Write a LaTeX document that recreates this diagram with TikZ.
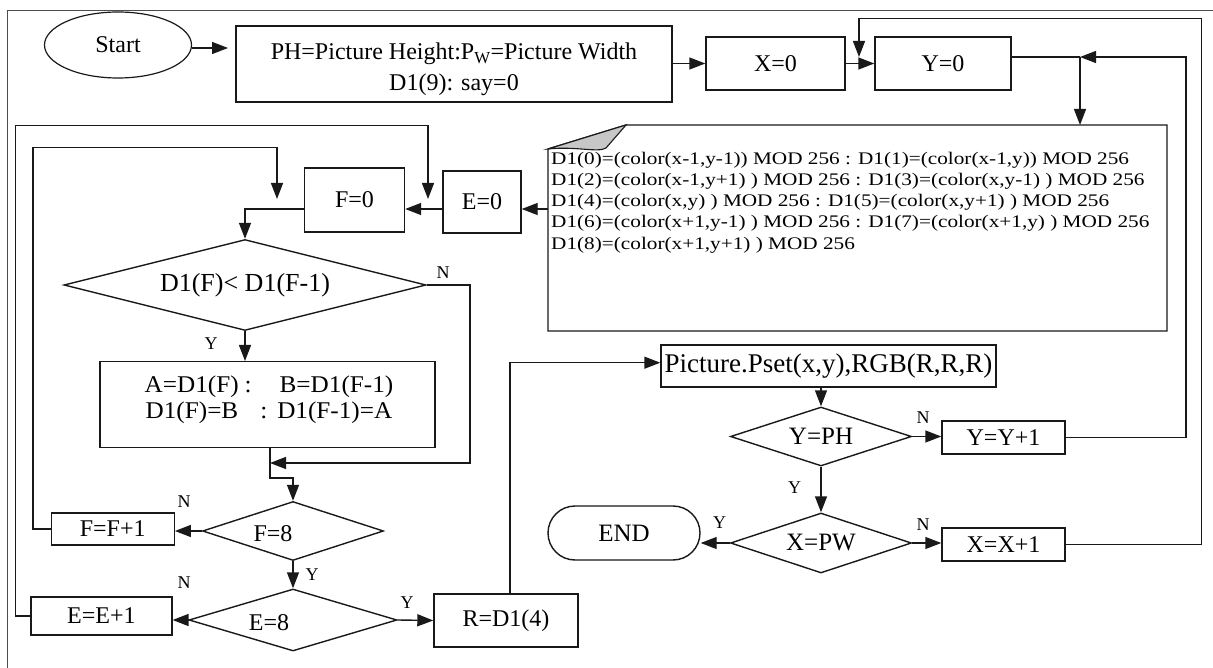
\documentclass[tikz,border=0pt]{standalone}
\usepackage{fontspec}
\setmainfont{Liberation Serif}
\newfontfamily\widefont[FakeStretch=1.2]{Liberation Serif}
\newfontfamily\midfont[FakeStretch=1.05]{Liberation Serif}
\usetikzlibrary{arrows.meta,shapes.geometric,calc}
\begin{document}
\begin{tikzpicture}[x=1pt,y=-1pt,
  ink/.style={draw=black!90},
  box/.style={ink, rectangle, line width=1.4pt, inner sep=0pt, font=\fontsize{24}{28}\selectfont},
  dia/.style={ink, diamond, aspect=3, line width=1.4pt, inner sep=0pt, font=\fontsize{25}{28}\selectfont},
  arr/.style={ink, line width=1.4pt, -{Triangle[length=16pt,width=12pt]}},
  link/.style={ink, line width=1.4pt},
  yn/.style={inner sep=0pt, font=\fontsize{18}{20}\selectfont},
  txt/.style={inner sep=0pt}
]
\useasboundingbox (0,0) rectangle (1213,668);

% page frame
\draw[black!70, line width=1pt] (7,668) -- (7,11) -- (1213,11);

% ---------- top row ----------
\node[ellipse, ink, line width=1.2pt, inner sep=0pt, minimum width=147pt, minimum height=66pt,
      font=\fontsize{24}{28}\selectfont] (start) at (118,45) {Start};
\node[box, minimum width=436pt, minimum height=76pt] (ph) at (454,64) {};
\node[txt, anchor=base, font=\fontsize{24}{31}\selectfont] (phtext) at (454,59.5)
  {\begin{tabular}[t]{@{}c@{}}PH=Picture Height:P\textsubscript{W}=Picture Width\\ D1(9): say=0\end{tabular}};
\node[box, minimum width=139pt, minimum height=53pt] (x0) at (775.5,63.5) {X=0};
\node[box, minimum width=136pt, minimum height=53pt] (y0) at (943,63.5) {Y=0};

\coordinate (sa) at (228,48);
\draw[arr] (start.east |- sa) -- (sa);
\draw[arr] (ph.east |- x0.west) -- (x0.west);
\draw[arr] (x0.east) -- (y0.west);

% ---------- neighbourhood box with folded corner ----------
\coordinate (d1a) at (548,125);
\draw[link] (626,125) -- (1167,125) -- (1167,331) -- (548,331) -- (548,149) -- cycle;
\filldraw[ink, fill=black!22, line width=1.1pt] (548,149) -- (626,125) -- (606,148)
  .. controls (598,153) and (576,146) .. cycle;
\node[txt, anchor=base west, font=\widefont\fontsize{17.7}{21.2}\selectfont] (d1text) at (551,164.3)
  {\begin{tabular}[t]{@{}l@{}}
   D1(0)=(color(x-1,y-1)) MOD 256 : D1(1)=(color(x-1,y)) MOD 256\\
   D1(2)=(color(x-1,y+1) ) MOD 256 : D1(3)=(color(x,y-1) ) MOD 256\\
   D1(4)=(color(x,y) ) MOD 256 : D1(5)=(color(x,y+1) ) MOD 256\\
   D1(6)=(color(x+1,y-1) ) MOD 256 : D1(7)=(color(x+1,y) ) MOD 256\\
   D1(8)=(color(x+1,y+1) ) MOD 256
   \end{tabular}};

\coordinate (jy) at (1080,57);
\draw[link] (y0.east |- jy) -- (jy);
\draw[arr] (jy) -- (jy |- d1a);

% ---------- sorting loop ----------
\node[box, minimum width=78pt, minimum height=62pt] (e0) at (482,202) {E=0};
\node[box, minimum width=100pt, minimum height=64pt] (f0) at (354.5,200) {F=0};
\node[dia, aspect=4, minimum width=362pt, minimum height=91pt, font=\fontsize{26}{28}\selectfont] (cmp) at (245,285) {D1(F)< D1(F-1)};
\node[box, minimum width=335pt, minimum height=86pt] (abox) at (267.5,404.7) {};
\node[txt, anchor=base, font=\midfont\fontsize{24}{26}\selectfont] (atext) at (269,392.3)
  {\begin{tabular}[t]{@{}c@{}}A=D1(F)\hspace{6pt}:\hspace{28pt}B=D1(F-1)\\ D1(F)=B\hspace{22pt}:\hspace{10pt}D1(F-1)=A\end{tabular}};

\coordinate (d1w) at (548,209);
\coordinate (fl) at (245,209);
\draw[arr] (d1w) -- (e0.east |- d1w);
\draw[arr] (e0.west |- d1w) -- (f0.east |- d1w);
\draw[arr] (f0.west |- fl) -- (fl) -- (cmp.north);
\draw[arr] (cmp.south) -- (abox.north -| cmp.south);
\node[yn] (ly1) at (211,344) {Y};
\node[yn] (ln1) at (443,273) {N};

\node[dia, minimum width=181pt, minimum height=59pt] (f8) at (293,531) {};
\node[txt, font=\fontsize{24}{28}\selectfont] (f8t) at (273,534) {F=8};
\node[box, minimum width=123pt, minimum height=32pt] (ff) at (112.7,529) {F=F+1};
\node[dia, aspect=3.4, minimum width=208pt, minimum height=62pt] (e8) at (293,620) {};
\node[txt, font=\fontsize{24}{28}\selectfont] (e8t) at (269,623) {E=8};
\node[box, minimum width=141pt, minimum height=38pt] (ee) at (101.4,616) {E=E+1};
\node[box, minimum width=144pt, minimum height=53pt] (r) at (506,620.5) {R=D1(4)};

\coordinate (ja) at (270,478);
\coordinate (nr) at (470,463);
\draw[arr] (abox.south -| ja) -- (ja) -- (ja -| f8.north) -- (f8.north);
\draw[arr] (cmp.east) -- (nr |- cmp.east) -- (nr) -- (nr -| ja);

\draw[arr] (f8.west) -- (ff.east |- f8.west);
\node[yn] (ln2) at (184,502) {N};
\draw[arr] (f8.south) -- (e8.north);
\node[yn] (ly2) at (312,575) {Y};
\draw[arr] (e8.west) -- (ee.east |- e8.west);
\node[yn] (ln3) at (184,583) {N};
\draw[arr] (e8.east) -- (r.west);
\node[yn] (ly3) at (407,603) {Y};

\coordinate (li) at (33,147.7);
\coordinate (ti) at (277,199);
\draw[arr] (ff.west) -- (li |- ff.west) -- (li) -- (li -| ti) -- (ti);
\coordinate (lo) at (15.5,125.7);
\coordinate (to) at (428,199);
\draw[arr] (ee.west) -- (lo |- ee.west) -- (lo) -- (lo -| to) -- (to);

% ---------- output and pixel loops ----------
\node[box, minimum width=335pt, minimum height=42pt, font=\fontsize{27}{30}\selectfont] (pset) at (828.5,366) {Picture.Pset(x,y),RGB(R,R,R)};
\node[dia, minimum width=181pt, minimum height=59pt] (yph) at (821,436.5) {Y=PH};
\node[box, minimum width=123pt, minimum height=33pt] (yy) at (1003.5,437.5) {Y=Y+1};
\node[dia, minimum width=181pt, minimum height=60pt] (xpw) at (821,543) {X=PW};
\node[box, minimum width=123pt, minimum height=33pt] (xx) at (1003.5,544.5) {X=X+1};
\node[ink, rectangle, rounded corners=27pt, line width=1.4pt, inner sep=0pt, minimum width=152pt,
      minimum height=54pt, font=\fontsize{25}{28}\selectfont] (endn) at (624,533) {END};

\coordinate (rv) at (510,362.7);
\draw[arr] (r.north -| rv) -- (rv) -- (rv -| pset.west);
\draw[arr] (pset.south -| yph.north) -- (yph.north);
\draw[arr] (yph.east) -- (yy.west |- yph.east);
\node[yn] (ln4) at (923,418) {N};
\draw[arr] (yph.south) -- (xpw.north);
\node[yn] (ly4) at (794.5,488) {Y};
\draw[arr] (xpw.east) -- (xx.west |- xpw.east);
\node[yn] (ln5) at (923,525) {N};
\draw[arr] (xpw.west) -- (endn.east |- xpw.west);
\node[yn] (ly5) at (719.5,523) {Y};

\coordinate (ry) at (1186,437);
\draw[arr] (yy.east) -- (ry |- yy.east) -- (ry |- jy) -- (jy);
\coordinate (rx) at (1201.5,18.5);
\coordinate (xtip) at (859,57);
\draw[arr] (xx.east) -- (rx |- xx.east) -- (rx) -- (xtip |- rx) -- (xtip);
\end{tikzpicture}
\end{document}
